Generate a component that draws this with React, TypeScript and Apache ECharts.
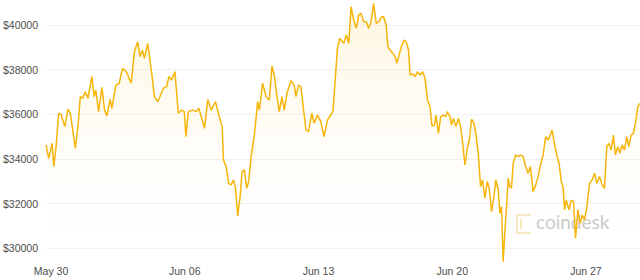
import React, { useEffect, useRef } from "react";
import * as echarts from "echarts";

// hours since May 30 00:00
const hours = [
  -6.3, -2.9, 1.3, 3.4, 6.3, 9.6, 12.9, 17.2, 21.3, 24.2, 27.2, 30.4, 33.8, 36.7, 39.7, 42.9, 46.3, 51.3, 54.2, 56.3,
  59.7, 63.9, 67.2, 70.1, 74.2, 76.4, 81.4, 85.5, 89.8, 95.2, 100.5, 104.8, 108.9, 111.8, 114.8, 117.3, 121.4, 126.5, 129.8, 134.0,
  136.8, 141.1, 145.2, 148.1, 151.5, 155.6, 159.9, 164.0, 167.4, 169.4, 172.4, 178.2, 182.4, 185.7, 188.7, 192.8, 196.9, 201.2, 206.6, 210.7,
  215.0, 216.6, 220.0, 223.2, 226.2, 229.1, 231.6, 234.5, 237.5, 240.0, 242.9, 245.8, 248.3, 251.3, 255.4, 259.5, 261.7, 265.8, 270.1, 274.2,
  277.6, 280.4, 283.3, 286.7, 290.1, 293.0, 296.3, 298.4, 301.4, 305.5, 307.6, 310.9, 313.9, 316.8, 320.2, 323.4, 327.6, 330.5, 334.7, 338.9,
  343.0, 347.2, 351.4, 354.3, 356.8, 359.7, 362.7, 367.7, 371.0, 374.0, 376.9, 380.2, 383.5, 386.5, 389.4, 392.8, 396.0, 399.0, 401.9, 405.3,
  408.5, 411.9, 415.3, 417.8, 421.0, 423.2, 426.0, 429.4, 432.3, 434.4, 437.8, 440.7, 443.6, 446.1, 449.1, 451.1, 454.5, 457.4, 460.4, 463.6,
  467.0, 469.9, 472.9, 476.1, 478.6, 481.6, 483.6, 486.6, 489.5, 492.9, 495.8, 497.9, 501.2, 503.3, 505.4, 508.7, 511.7, 514.6, 517.1, 520.0,
  523.0, 525.5, 528.3, 531.2, 533.7, 536.7, 539.6, 542.1, 545.0, 548.0, 550.5, 553.4, 556.3, 558.8, 561.8, 563.8, 565.9, 568.0, 570.0, 572.2,
  574.3, 576.3, 578.4, 580.6, 583.8, 586.8, 589.7, 593.1, 596.3, 599.3, 602.2, 605.6, 608.9, 611.9, 614.8, 618.2, 621.4, 624.4, 626.4, 629.4,
  631.9, 634.8, 638.2, 641.0, 643.2, 645.2, 647.3, 650.7, 653.5, 656.4, 658.9, 661.9, 664.8, 667.3, 670.2, 673.2, 676.5, 679.8, 682.7, 685.7,
  689.0, 692.4, 695.2, 698.2, 700.7, 703.6, 706.5, 709.0, 712.0, 714.9, 717.4, 720.3, 723.3, 725.8, 728.7, 731.6, 734.1, 737.1, 739.9,
];

const prices = [
  34630, 34030, 34700, 33660, 34550, 36050, 35970, 35450, 36230, 36050, 35300, 34480, 35450, 36790, 36720, 37010, 36720, 37690, 36790, 37090,
  36120, 37210, 36190, 35930, 36670, 36270, 37310, 37390, 38060, 37870, 37390, 38810, 39250, 38580, 38880, 38510, 39180, 37840, 36790, 36570,
  36790, 37170, 37240, 37690, 37540, 37910, 36050, 36190, 36120, 35000, 36120, 36190, 36120, 36270, 35890, 35370, 36670, 36190, 36570, 35970,
  35450, 33960, 33660, 32910, 32840, 33060, 32760, 31450, 32310, 33430, 33510, 32690, 32990, 34100, 35070, 36570, 36190, 37390, 36790, 36640,
  38160, 37760, 36940, 36120, 36790, 36190, 36940, 37170, 37510, 37310, 36790, 37310, 37240, 36340, 35300, 35220, 36050, 35600, 35970, 35670,
  35000, 35750, 35970, 36190, 37460, 38920, 39400, 39180, 39550, 39180, 40820, 40220, 39850, 40450, 40520, 40150, 40150, 39850, 40150, 40970,
  40080, 40150, 40370, 40370, 40000, 39030, 38880, 38730, 38580, 38290, 38730, 39100, 39330, 39250, 38880, 37760, 37810, 37690, 37910, 37760,
  37910, 37610, 36640, 36340, 35480, 35520, 35970, 35150, 35890, 35970, 35890, 36120, 35890, 35520, 35820, 35450, 35820, 35450, 34700, 33730,
  34480, 34850, 35780, 35600, 35150, 34260, 32760, 33060, 32240, 32990, 32690, 31640, 32310, 33060, 32610, 31570, 31860, 29400, 30670, 31860,
  33140, 32760, 32690, 33810, 34180, 34100, 34180, 34100, 33660, 33360, 33660, 32540, 32840, 33210, 33730, 34180, 35000, 34850, 35000, 35300,
  34780, 34260, 33810, 32990, 32760, 31720, 32160, 31720, 32160, 32090, 30450, 31720, 31120, 31490, 31270, 31860, 32910, 33060, 33360, 32910,
  33210, 32840, 32690, 34550, 34700, 34400, 35070, 34180, 34550, 34260, 34630, 34400, 35000, 34550, 35070, 35150, 35600, 36340, 36490,
];

const xTickHours = [0, 168, 336, 504, 672];
const xTickLabels = ["May 30", "Jun 06", "Jun 13", "Jun 20", "Jun 27"];

export default function App() {
  const ref = useRef<HTMLDivElement>(null);
  useEffect(() => {
    if (!ref.current) return;
    const chart = echarts.init(ref.current, undefined, { renderer: "svg" });
    const data = hours.map((h, i) => [h, prices[i]]);
    const font = "'Liberation Sans', Arial, sans-serif";
    chart.setOption({
      animation: false,
      grid: { left: 44, right: 0, top: 2.7, bottom: 9.4 },
      xAxis: {
        type: "value",
        min: hours[0],
        max: hours[hours.length - 1],
        axisLine: { show: false },
        axisTick: { show: false },
        splitLine: { show: false },
        axisLabel: {
          customValues: xTickHours,
          margin: -5,
          color: "#4d4d4d",
          fontSize: 10.5,
          fontFamily: font,
          formatter: (v: number) => {
            const i = xTickHours.indexOf(Math.round(v));
            return i >= 0 ? xTickLabels[i] : "";
          },
        },
      },
      yAxis: {
        type: "value",
        min: 29000,
        max: 41000,
        interval: 1000,
        axisLine: { show: false },
        axisTick: { show: false },
        splitLine: { lineStyle: { color: ["transparent", "#f1f1f1"], width: 1 } },
        axisLabel: {
          margin: 8,
          color: "#4d4d4d",
          fontSize: 10.5,
          fontFamily: font,
          formatter: (v: number) => (v % 2000 === 0 && v >= 30000 && v <= 40000 ? "$" + v : ""),
        },
      },
      graphic: [
        {
          type: "polyline",
          z: 0,
          shape: { points: [[531, 215], [517, 215], [517, 233], [531, 233]] },
          style: { stroke: "rgba(238,205,120,0.45)", lineWidth: 2, fill: null },
        },
        {
          type: "polyline",
          z: 0,
          shape: { points: [[521, 219], [521, 229]] },
          style: { stroke: "rgba(238,205,120,0.45)", lineWidth: 2, fill: null },
        },
        {
          type: "text",
          z: 0,
          x: 536,
          y: 212,
          style: { text: "coindesk", fontSize: 19, fontFamily: "Lato, sans-serif", fill: "#c9c9c9" },
        },
      ],
      series: [
        {
          type: "line",
          data,
          z: 3,
          showSymbol: false,
          symbol: "none",
          lineStyle: { color: "#F5B50A", width: 1.5 },
          areaStyle: {
            origin: "start",
            color: new echarts.graphic.LinearGradient(0, 0, 0, 1, [
              { offset: 0, color: "rgba(247,192,50,0.22)" },
              { offset: 1, color: "rgba(255,255,255,0)" },
            ]),
          },
        },
      ],
    });
    return () => chart.dispose();
  }, []);
  return <div ref={ref} style={{ width: 640, height: 280, position: "absolute", left: 0, top: 0 }} />;
}
